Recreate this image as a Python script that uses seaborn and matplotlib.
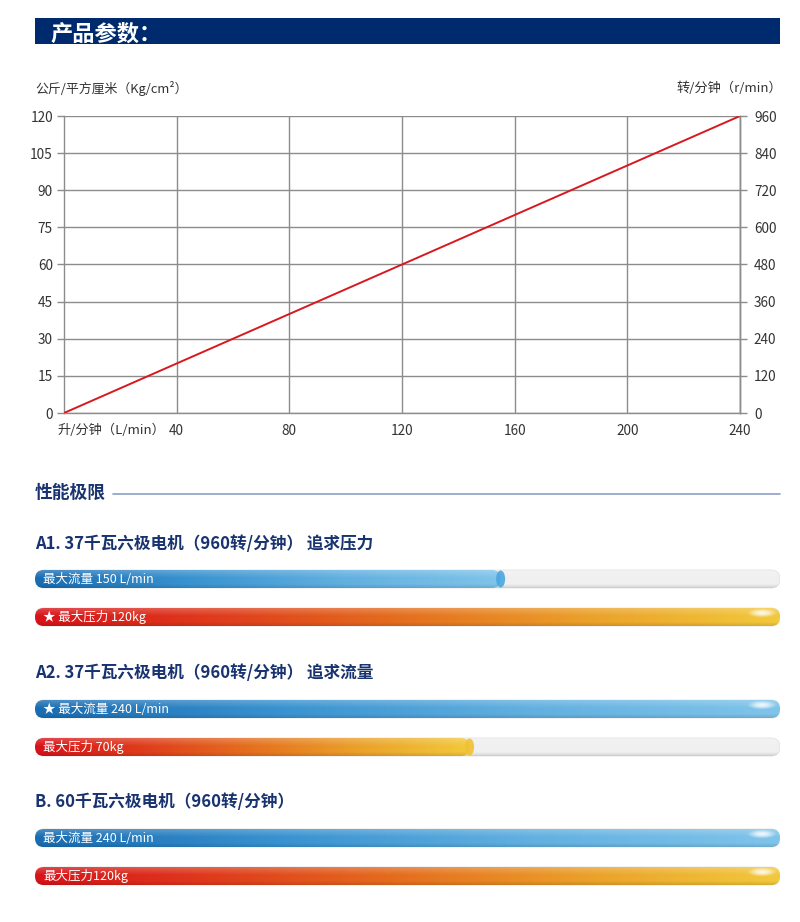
import numpy as np
import pandas as pd
import matplotlib
matplotlib.use('Agg')
import matplotlib.pyplot as plt
import seaborn as sns
from matplotlib.patches import FancyBboxPatch, Rectangle, Ellipse
from matplotlib.lines import Line2D
from matplotlib.colors import LinearSegmentedColormap

# ---------------- data ----------------
flow_lpm = [0, 240]
pressure_kgcm2 = [0, 120]
x_ticks = [40, 80, 120, 160, 200, 240]
left_ticks = [0, 15, 30, 45, 60, 75, 90, 105, 120]
right_ticks = [0, 120, 240, 360, 480, 600, 720, 840, 960]

group_titles = ["A1. 37千瓦六极电机（960转/分钟） 追求压力",
                "A2. 37千瓦六极电机（960转/分钟） 追求流量",
                "B. 60千瓦六极电机（960转/分钟）"]
flow_values = [150, 240, 240]
pressure_values = [120, 70, 120]
flow_labels = ["最大流量 150 L/min", "★ 最大流量 240 L/min", "最大流量 240 L/min"]
pressure_labels = ["★ 最大压力 120kg", "最大压力 70kg", "最大压力120kg"]
flow_max = 240
pressure_max = 120

# ---------------- style ----------------
W, H = 800, 922
sns.set_theme(style='white')
plt.rcParams['font.family'] = ['Noto Sans CJK SC', 'DejaVu Sans']

NAVY = '#002a6e'
TITLE_NAVY = '#18336f'
GRID = '#8c8c8c'
TXT = '#333333'
RED = '#d7191f'

fig = plt.figure(figsize=(W / 100, H / 100), dpi=100)
fig.patch.set_facecolor('white')


def fx(px):
    return px / W


def fy(py):
    return 1 - py / H


# header
fig.add_artist(Rectangle((fx(35), fy(44)), (780 - 35) / W, (44 - 18) / H,
                         transform=fig.transFigure, facecolor=NAVY, edgecolor='none'))
fig.text(fx(50), fy(34), '产品参数：', color='white', fontsize=16,
         fontweight='bold', va='center', ha='left')

# ---------------- main chart ----------------
ax = fig.add_axes([fx(64), fy(413), (740 - 64) / W, (413 - 116) / H])
df = pd.DataFrame({'flow': flow_lpm, 'pressure': pressure_kgcm2})
sns.lineplot(data=df, x='flow', y='pressure', ax=ax, color=RED, lw=1.4, zorder=5)
ax.set_xlim(0, 240)
ax.set_ylim(0, 120)
ax.set_xticks(x_ticks)
ax.set_yticks(left_ticks)
ax.set_xlabel('')
ax.set_ylabel('')
ax.grid(True, color=GRID, lw=1)
ax.spines['top'].set_visible(False)
for s in ['left', 'bottom', 'right']:
    ax.spines[s].set_color(GRID)
    ax.spines[s].set_linewidth(1)
ax.tick_params(axis='y', length=5, width=1, color=GRID, pad=3,
               labelsize=9.8, labelcolor=TXT, direction='out', left=True)
ax.tick_params(axis='x', length=0, pad=8, labelsize=9.8, labelcolor=TXT)

ax2 = ax.twinx()
ax2.set_ylim(0, 960)
ax2.set_yticks(right_ticks)
ax2.grid(False)
for s in ['left', 'bottom', 'top']:
    ax2.spines[s].set_visible(False)
ax2.spines['right'].set_color(GRID)
ax2.spines['right'].set_linewidth(1)
ax2.tick_params(axis='y', length=5, width=1, color=GRID, pad=5,
                labelsize=9.8, labelcolor=TXT, direction='out', right=True)

fig.text(fx(35), fy(88), '公斤/平方厘米（Kg/cm²）', fontsize=9.3, color=TXT,
         va='center', ha='left')
fig.text(fx(782), fy(88), '转/分钟（r/min）', fontsize=9.5, color=TXT,
         va='center', ha='right')
fig.text(fx(58), fy(430), '升/分钟（L/min）', fontsize=9.5, color=TXT,
         va='center', ha='left')

# ---------------- section ----------------
fig.text(fx(35), fy(493), '性能极限', fontsize=12.8, fontweight='bold',
         color=TITLE_NAVY, va='center', ha='left')
fig.add_artist(Line2D([fx(113), fx(780)], [fy(494), fy(494)],
                      transform=fig.transFigure, color='#8d9ec6', lw=1.2))

title_y = [544, 673, 802]
flow_y = [579, 709, 838]
press_y = [617, 747, 876]
for t, yy in zip(group_titles, title_y):
    fig.text(fx(35), fy(yy), t, fontsize=12, fontweight='bold',
             color=TITLE_NAVY, va='center', ha='left')

# ---------------- bars ----------------
Y0, Y1 = 560, 900
bx = fig.add_axes([fx(35), fy(Y1), 745 / W, (Y1 - Y0) / H])
bx.set_xlim(0, 1)
bx.set_ylim(Y1, Y0)
bx.axis('off')
bx.patch.set_alpha(0)
pos = bx.get_position()
px_per_x = pos.width * W / 1.0
m_aspect = px_per_x / (pos.height * H / (Y1 - Y0))
BAR_H = 18

blue_cmap = LinearSegmentedColormap.from_list('b', ['#1a6cb2', '#3993d0', '#62b0e0', '#7fc4ea'])
red_cmap = LinearSegmentedColormap.from_list('r', ['#d81219', '#df3d1c', '#e5701f', '#eba22a', '#f2c93c'])
blue_cap = '#49a6e0'
red_cap = '#f0c130'

# vertical shading overlay (row 0 at visual top)
n = 40
shade = np.zeros((n, 1, 4))
for i in range(n):
    t = i / (n - 1)
    if t < 0.45:
        shade[i, 0, :3] = 1.0
        shade[i, 0, 3] = 0.22 * (1 - t / 0.45)
    elif t > 0.78:
        shade[i, 0, :3] = 0.0
        shade[i, 0, 3] = 0.12 * (t - 0.78) / 0.22

# soft glare image
gx, gy = np.meshgrid(np.linspace(-1, 1, 60), np.linspace(-1, 1, 20))
glare = np.ones((20, 60, 4))
glare[..., 3] = np.clip(1 - (gx ** 2 + gy ** 2), 0, 1) ** 1.5 * 0.85


def pill(x0, x1, yc):
    r = BAR_H / 2 / m_aspect
    return FancyBboxPatch((x0, yc - BAR_H / 2), x1 - x0, BAR_H,
                          boxstyle=f'round,pad=0,rounding_size={r}',
                          mutation_aspect=m_aspect, transform=bx.transData)


def draw_bar(frac, yc, cmap, cap, label):
    # track
    tr = pill(0, 1, yc)
    tr.set_facecolor('#f0f0f0')
    tr.set_edgecolor('#e0e0e0')
    tr.set_linewidth(0.6)
    tr.set_zorder(1)
    bx.add_patch(tr)
    ims = bx.imshow(shade, extent=[0, 1, yc + BAR_H / 2, yc - BAR_H / 2],
                    aspect='auto', interpolation='bilinear', zorder=1.5)
    ims.set_clip_path(tr)
    # fill
    p = pill(0, frac, yc)
    p.set_facecolor('none')
    p.set_edgecolor('none')
    bx.add_patch(p)
    grad = np.linspace(0, 1, 256).reshape(1, -1)
    im = bx.imshow(grad, cmap=cmap, extent=[0, frac, yc + BAR_H / 2, yc - BAR_H / 2],
                   aspect='auto', interpolation='bicubic', zorder=2)
    im.set_clip_path(p)
    im2 = bx.imshow(shade, extent=[0, frac, yc + BAR_H / 2, yc - BAR_H / 2],
                    aspect='auto', interpolation='bilinear', zorder=2.5)
    im2.set_clip_path(p)
    if frac >= 1:
        gl = bx.imshow(glare, extent=[frac - 34 / px_per_x, frac - 2 / px_per_x,
                                      yc + 1, yc - BAR_H / 2 + 0.5],
                       aspect='auto', interpolation='bilinear', zorder=3)
        gl.set_clip_path(p)
    else:
        e = Ellipse((frac, yc), 9 / px_per_x, BAR_H - 1, facecolor=cap,
                    edgecolor='none', alpha=0.9, zorder=2.7)
        bx.add_patch(e)
    bx.text(8 / px_per_x, yc, label, color='white', fontsize=9, va='center',
            ha='left', zorder=4)


for fv, pv, fl, pl, fyc, pyc in zip(flow_values, pressure_values, flow_labels,
                                    pressure_labels, flow_y, press_y):
    draw_bar(fv / flow_max, fyc, blue_cmap, blue_cap, fl)
    draw_bar(pv / pressure_max, pyc, red_cmap, red_cap, pl)

bx.set_xlim(0, 1)
bx.set_ylim(Y1, Y0)

fig.savefig('out.png', dpi=100, facecolor='white')
